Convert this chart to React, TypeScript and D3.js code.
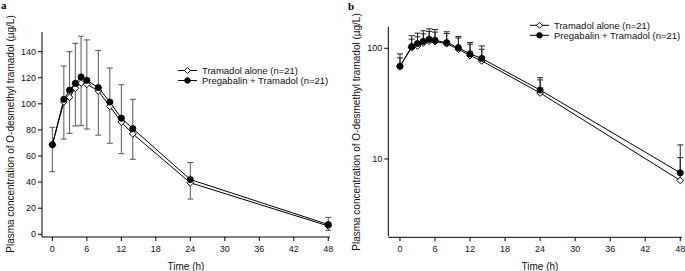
import React from "react";
import * as d3 from "d3";

const times = [0, 2, 3, 4, 5, 6, 8, 10, 12, 14, 24, 48];
const tramadolAlone = [68.7, 101.5, 105, 112, 116, 115, 110, 98, 86, 77, 39.5, 6.4];
const pregabalinTramadol = [68.7, 103.5, 110.5, 115.7, 120.6, 118, 112.4, 101.4, 89, 81, 42, 7.5];
// panel a error bars (low / high)
const aErrLo = [48, 73, 77.4, 83, 83.3, 80.7, 76, 69.8, 61.8, 57.5, 27, 3];
const aErrHi = [82, 129, 140, 146.4, 151.8, 149, 141, 127.5, 114.7, 103.5, 55, 13];
// panel b upper error bars
const bErrHiAlone = [82, 121, 127, 135, 142, 140, 136, 124, 109, 98, 51.8, 10.3];
const bErrHiPreg = [89, 130, 137, 144, 150, 148, 141, 128, 113, 105, 54.3, 13.4];
const xTicks = [0, 6, 12, 18, 24, 30, 36, 42, 48];
const aYTicks = [0, 20, 40, 60, 80, 100, 120, 140];
const bYTicks = [10, 100];
const legendLabels = ["Tramadol alone (n=21)", "Pregabalin + Tramadol (n=21)"];
const yTitle = "Plasma concentration of O-desmethyl tramadol (\u00b5g/L)";
const xTitle = "Time (h)";

const FONT = "Liberation Sans, Arial, sans-serif";

function Diamond({ x, y, r = 3.4 }: { x: number; y: number; r?: number }) {
  return (
    <path
      d={`M${x},${y - r}L${x + r},${y}L${x},${y + r}L${x - r},${y}Z`}
      fill="white"
      stroke="black"
      strokeWidth={1}
    />
  );
}

function Dot({ x, y, r = 3.1 }: { x: number; y: number; r?: number }) {
  return <circle cx={x} cy={y} r={r} fill="black" stroke="black" strokeWidth={0.8} />;
}

function Legend({ x, y }: { x: number; y: number }) {
  // x = text start, y = first row center
  return (
    <g>
      {legendLabels.map((lab, i) => {
        const cy = y + i * 10;
        const x1 = x - 24;
        const x2 = x - 5;
        const mx = (x1 + x2) / 2;
        return (
          <g key={i}>
            <line x1={x1} x2={x2} y1={cy} y2={cy} stroke="black" strokeWidth={1} />
            {i === 0 ? <Diamond x={mx} y={cy} r={3} /> : <Dot x={mx} y={cy} r={2.8} />}
            <text x={x} y={cy} dy="0.35em" fontSize={9.5} fontFamily={FONT} fill="#111">
              {lab}
            </text>
          </g>
        );
      })}
    </g>
  );
}

function XAxis({ x, y0 }: { x: d3.ScaleLinear<number, number>; y0: number }) {
  const [r0, r1] = x.range();
  return (
    <g>
      <line x1={r0} x2={r1} y1={y0} y2={y0} stroke="black" strokeWidth={1} />
      {xTicks.map((t) => (
        <g key={t}>
          <line x1={x(t)} x2={x(t)} y1={y0} y2={y0 + 4} stroke="black" strokeWidth={1} />
          <text x={x(t)} y={y0 + 12} textAnchor="middle" dy="0.35em" fontSize={9} fontFamily={FONT} fill="#111">
            {t}
          </text>
        </g>
      ))}
    </g>
  );
}

function YAxis({ y, x0, ticks }: { y: any; x0: number; ticks: number[] }) {
  const [r0, r1] = y.range();
  return (
    <g>
      <line x1={x0} x2={x0} y1={r0} y2={r1} stroke="black" strokeWidth={1} />
      {ticks.map((t) => (
        <g key={t}>
          <line x1={x0 - 4} x2={x0} y1={y(t)} y2={y(t)} stroke="black" strokeWidth={1} />
          <text x={x0 - 6} y={y(t)} textAnchor="end" dy="0.35em" fontSize={9} fontFamily={FONT} fill="#111">
            {t}
          </text>
        </g>
      ))}
    </g>
  );
}

export default function App() {
  // Panel a
  const xa = d3.scaleLinear().domain([-1.8, 48.3]).range([42, 330]);
  const ya = d3.scaleLinear().domain([-2, 155]).range([236.9, 32.1]);
  // Panel b
  const xb = d3.scaleLinear().domain([-2, 48.3]).range([388.3, 682]);
  const yb = d3.scaleLog().domain([2.015, 156.7]).range([236, 26.7]);

  const lineA = (vals: number[]) =>
    d3.line<number>().x((_, i) => xa(times[i])).y((v) => ya(v))(vals) || "";
  const lineB = (vals: number[]) =>
    d3.line<number>().x((_, i) => xb(times[i])).y((v) => yb(v))(vals) || "";

  const cap = 3;

  return (
    <svg width={685} height={271} style={{ position: "absolute", left: 0, top: 0, background: "white" }}>
      <rect width={685} height={271} fill="white" />
      {/* Panel labels */}
      <text x={1} y={9} fontSize={11} fontWeight="bold" fontFamily="Liberation Serif, Times New Roman, serif">
        a
      </text>
      <text x={348} y={10} fontSize={11} fontWeight="bold" fontFamily="Liberation Serif, Times New Roman, serif">
        b
      </text>

      {/* ===== Panel a ===== */}
      <g>
        {times.map((t, i) => (
          <g key={i} stroke="#555" strokeWidth={1}>
            <line x1={xa(t)} x2={xa(t)} y1={ya(aErrLo[i])} y2={ya(aErrHi[i])} />
            <line x1={xa(t) - cap} x2={xa(t) + cap} y1={ya(aErrLo[i])} y2={ya(aErrLo[i])} />
            <line x1={xa(t) - cap} x2={xa(t) + cap} y1={ya(aErrHi[i])} y2={ya(aErrHi[i])} />
          </g>
        ))}
        <path d={lineA(tramadolAlone)} fill="none" stroke="black" strokeWidth={1} />
        <path d={lineA(pregabalinTramadol)} fill="none" stroke="black" strokeWidth={1} />
        {times.map((t, i) => (
          <Diamond key={"ad" + i} x={xa(t)} y={ya(tramadolAlone[i])} />
        ))}
        {times.map((t, i) => (
          <Dot key={"ac" + i} x={xa(t)} y={ya(pregabalinTramadol[i])} />
        ))}
        <YAxis y={ya} x0={42} ticks={aYTicks} />
        <XAxis x={xa} y0={237} />
        <text x={186} y={266} textAnchor="middle" dy="0.35em" fontSize={10} fontFamily={FONT} fill="#111">
          {xTitle}
        </text>
        <text
          transform="translate(10,134) rotate(-90)"
          textAnchor="middle"
          dy="0.35em"
          fontSize={10}
          fontFamily={FONT}
          fill="#111"
        >
          {yTitle}
        </text>
        <Legend x={202} y={70.5} />
      </g>

      {/* ===== Panel b ===== */}
      <g>
        {times.map((t, i) => (
          <g key={i} stroke="#222" strokeWidth={1}>
            <line x1={xb(t)} x2={xb(t)} y1={yb(pregabalinTramadol[i])} y2={yb(bErrHiPreg[i])} />
            <line x1={xb(t) - cap} x2={xb(t) + cap} y1={yb(bErrHiPreg[i])} y2={yb(bErrHiPreg[i])} />
            <line x1={xb(t)} x2={xb(t)} y1={yb(tramadolAlone[i])} y2={yb(bErrHiAlone[i])} />
            <line x1={xb(t) - cap} x2={xb(t) + cap} y1={yb(bErrHiAlone[i])} y2={yb(bErrHiAlone[i])} />
          </g>
        ))}
        <path d={lineB(tramadolAlone)} fill="none" stroke="black" strokeWidth={1} />
        <path d={lineB(pregabalinTramadol)} fill="none" stroke="black" strokeWidth={1} />
        {times.map((t, i) => (
          <Diamond key={"bd" + i} x={xb(t)} y={yb(tramadolAlone[i])} />
        ))}
        {times.map((t, i) => (
          <Dot key={"bc" + i} x={xb(t)} y={yb(pregabalinTramadol[i])} />
        ))}
        <YAxis y={yb} x0={388.3} ticks={bYTicks} />
        <XAxis x={xb} y0={237.3} />
        <text x={540} y={266} textAnchor="middle" dy="0.35em" fontSize={10} fontFamily={FONT} fill="#111">
          {xTitle}
        </text>
        <text
          transform="translate(356,132) rotate(-90)"
          textAnchor="middle"
          dy="0.35em"
          fontSize={10}
          fontFamily={FONT}
          fill="#111"
        >
          {yTitle}
        </text>
        <Legend x={554} y={25.3} />
      </g>
    </svg>
  );
}
